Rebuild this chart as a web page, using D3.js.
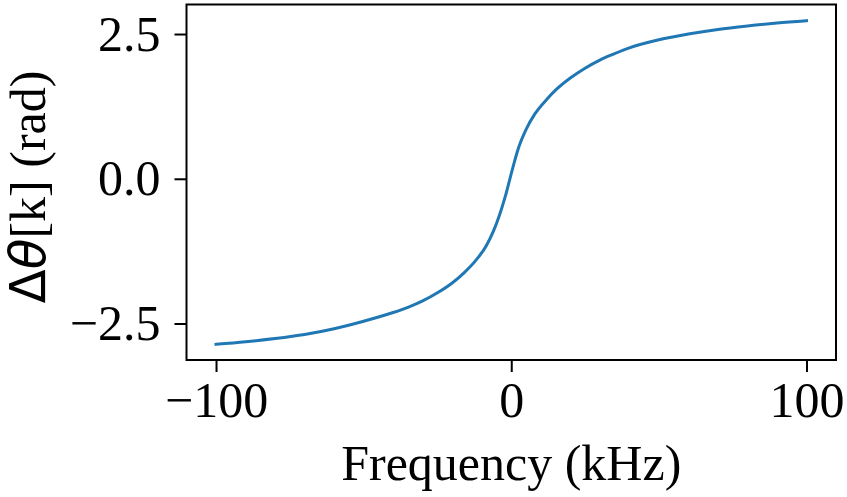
<html>
<head>
<meta charset="utf-8">
<script src="https://cdnjs.cloudflare.com/ajax/libs/d3/7.8.5/d3.min.js"></script>
<style>
  body { margin: 0; background: white; }
  text { font-family: "Liberation Serif", "Times New Roman", serif; }
</style>
</head>
<body></body>
<script>
// values
var freqs = [-100, -90, -80, -70, -60, -50, -40, -35, -30, -25, -20, -16, -12, -8.5, -6, -4, -2, -0.5,
             1, 2.5, 5, 8, 12, 15, 20, 25, 30, 35, 40, 50, 60, 70, 80, 90, 100];
var phase = [-2.86, -2.815, -2.76, -2.69, -2.59, -2.46, -2.31, -2.22, -2.11, -1.97, -1.80, -1.625, -1.41, -1.16, -0.90, -0.63, -0.30, -0.01,
             0.28, 0.54, 0.85, 1.12, 1.37, 1.53, 1.74, 1.91, 2.05, 2.16, 2.26, 2.40, 2.50, 2.58, 2.64, 2.69, 2.73];
var xTicks = [-100, 0, 100];
var yTicks = [-2.5, 0, 2.5];

var screen = {width: 847, height: 497};
var box = {left: 186.5, right: 836, top: 4.5, bottom: 360};
var fontSize = 50;

var svg = d3.select("body")
  .append("svg")
  .attr("width", screen.width)
  .attr("height", screen.height)
  .style("background-color", "white");

var x = d3.scaleLinear().domain([-110, 110]).range([box.left, box.right]);
var y = d3.scaleLinear().domain([-3.13, 3.01]).range([box.bottom, box.top]);

function fmtMinus(s) { return s.replace("-", "\u2212"); }

var xAxis = d3.axisBottom(x)
  .tickValues(xTicks)
  .tickSize(12)
  .tickSizeOuter(0)
  .tickFormat(function (d) { return fmtMinus(d3.format("d")(d)); });

var yAxis = d3.axisLeft(y)
  .tickValues(yTicks)
  .tickSize(12)
  .tickSizeOuter(0)
  .tickPadding(14)
  .tickFormat(function (d) { return fmtMinus(d3.format(".1f")(d)); });

var gx = svg.append("g")
  .attr("transform", "translate(0," + box.bottom + ")")
  .call(xAxis);
gx.select(".domain").remove();
gx.selectAll("line").attr("stroke", "black").attr("stroke-width", 2);
gx.selectAll("text")
  .attr("y", 57)
  .attr("dy", 0)
  .attr("fill", "black")
  .style("font-size", fontSize + "px")
  .style("font-family", "'Liberation Serif', serif");

var gy = svg.append("g")
  .attr("transform", "translate(" + box.left + ",0)")
  .call(yAxis);
gy.select(".domain").remove();
gy.selectAll("line").attr("stroke", "black").attr("stroke-width", 2);
gy.selectAll("text")
  .attr("fill", "black")
  .style("font-size", fontSize + "px")
  .style("font-family", "'Liberation Serif', serif");

// curve
var line = d3.line()
  .x(function (d, i) { return x(freqs[i]); })
  .y(function (d) { return y(d); })
  .curve(d3.curveMonotoneX);

svg.append("path")
  .datum(phase)
  .attr("d", line)
  .attr("fill", "none")
  .attr("stroke", "#1f77b4")
  .attr("stroke-width", 3)
  .attr("stroke-linecap", "square");

// frame
svg.append("rect")
  .attr("x", box.left)
  .attr("y", box.top)
  .attr("width", box.right - box.left)
  .attr("height", box.bottom - box.top)
  .attr("fill", "none")
  .attr("stroke", "black")
  .attr("stroke-width", 2);

// axis labels
svg.append("text")
  .attr("x", (box.left + box.right) / 2)
  .attr("y", 480)
  .attr("text-anchor", "middle")
  .style("font-size", fontSize + "px")
  .text("Frequency (kHz)");

var ylab = svg.append("text")
  .attr("transform", "translate(45," + 187 + ") rotate(-90)")
  .attr("text-anchor", "middle")
  .style("font-size", fontSize + "px");
ylab.append("tspan").style("font-family", "'DejaVu Sans', sans-serif").text("\u0394");
ylab.append("tspan").style("font-family", "'DejaVu Sans', sans-serif").style("font-style", "italic").text("\u03b8");
ylab.append("tspan").text("[k] (rad)");
</script>
</html>
